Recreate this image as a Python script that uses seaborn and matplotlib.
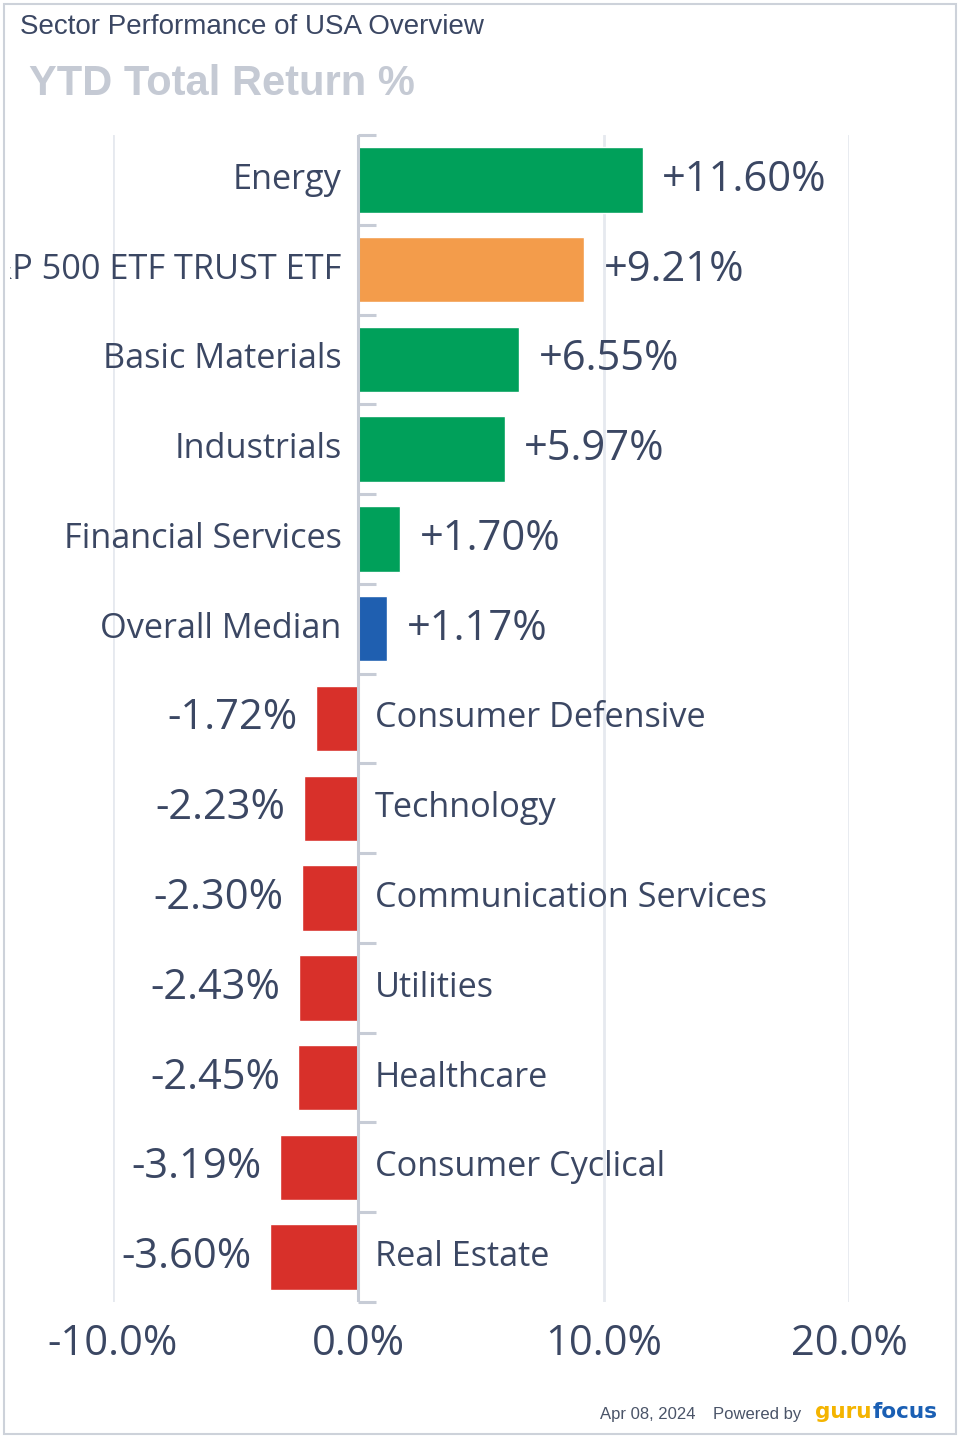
import matplotlib
matplotlib.use("Agg")
import matplotlib.pyplot as plt
import seaborn as sns
import pandas as pd
from matplotlib.patches import Rectangle
from matplotlib.transforms import Bbox, TransformedBbox

sectors = ["Energy", "SPDR S&P 500 ETF TRUST ETF", "Basic Materials", "Industrials",
           "Financial Services", "Overall Median", "Consumer Defensive", "Technology",
           "Communication Services", "Utilities", "Healthcare", "Consumer Cyclical",
           "Real Estate"]
returns = [11.60, 9.21, 6.55, 5.97, 1.70, 1.17, -1.72, -2.23, -2.30, -2.43, -2.45, -3.19, -3.60]
x_ticks = [-10, 0, 10, 20]
x_tick_labels = ["-10.0%", "0.0%", "10.0%", "20.0%"]

GREEN = "#00a05a"
ORANGE = "#f39c4b"
BLUE = "#1f5fb0"
RED = "#d8302a"
TEXT = "#3b4763"


def bar_colour(name, v):
    if name.startswith("SPDR"):
        return ORANGE
    if name == "Overall Median":
        return BLUE
    return GREEN if v >= 0 else RED


df = pd.DataFrame({"sector": sectors, "ret": returns})
palette = {s: bar_colour(s, v) for s, v in zip(sectors, returns)}

sns.set_style("white")
plt.rcParams["font.family"] = ["Open Sans", "DejaVu Sans"]

fig = plt.figure(figsize=(9.6, 14.38), dpi=100)
ax = fig.add_axes([113 / 960, 136 / 1438, 736 / 960, 1167 / 1438])

sns.barplot(data=df, x="ret", y="sector", hue="sector", palette=palette,
            legend=False, orient="h", width=0.73, saturation=1, ax=ax)

ax.set_xlim(-10, 20)
ax.set_ylim(len(sectors) - 0.5, -0.5)
for s in ax.spines.values():
    s.set_visible(False)

# vertical grid
for xv in [-10, 10, 20]:
    ax.axvline(xv, color="#e6e9ef", lw=2, zorder=0)
# zero axis with small category ticks
ax.axvline(0, color="#c7ccd6", lw=2.2, zorder=1)
for i in range(len(sectors) + 1):
    ax.hlines(i - 0.5, 0, 0.7, color="#c7ccd6", lw=2.2, zorder=1, clip_on=False)

ax.set_yticks([])
ax.set_ylabel("")
ax.set_xlabel("")
ax.set_xticks(x_ticks)
ax.set_xticklabels(x_tick_labels)
ax.tick_params(axis="x", length=0, pad=15, labelsize=30, labelcolor=TEXT)

# long names get cut at the card's left edge, like the original
clip = TransformedBbox(Bbox([[10 / 960, 0], [954 / 960, 1]]), fig.transFigure)
for i, (name, v) in enumerate(zip(sectors, returns)):
    label = f"+{v:.2f}%" if v >= 0 else f"{v:.2f}%"
    if v >= 0:
        t = ax.annotate(name, (0, i), xytext=(-12, 0), textcoords="offset points",
                        ha="right", va="center", fontsize=24.7, color=TEXT)
        ax.annotate(label, (v, i), xytext=(14, 0), textcoords="offset points",
                    ha="left", va="center", fontsize=30, color=TEXT)
    else:
        t = ax.annotate(name, (0, i), xytext=(12, 0), textcoords="offset points",
                        ha="left", va="center", fontsize=24.7, color=TEXT)
        ax.annotate(label, (v, i), xytext=(-13, 0), textcoords="offset points",
                    ha="right", va="center", fontsize=30, color=TEXT)
    t.set_clip_on(True)
    t.set_clip_box(clip)

fig.text(20 / 960, 1 - 27 / 1438, "Sector Performance of USA Overview", ha="left", va="center",
         fontsize=20, color=TEXT, family="Liberation Sans")
fig.text(29 / 960, 1 - 84 / 1438, "YTD Total Return %", ha="left", va="center",
         fontsize=30, color="#c5cad4", fontweight="bold", family="Liberation Sans")

fig.text(600 / 960, 1 - 1414 / 1438, "Apr 08, 2024", ha="left", va="center",
         fontsize=12, color="#4a5468", family="Liberation Sans")
fig.text(713 / 960, 1 - 1414 / 1438, "Powered by", ha="left", va="center",
         fontsize=12, color="#4a5468", family="Liberation Sans")
logo_font = ["Liberation Sans Narrow", "DejaVu Sans"]
g = fig.text(815 / 960, 1 - 1412 / 1438, "guru", ha="left", va="center",
             fontsize=15.5, color="#f4b400", fontweight="bold", family=logo_font)
ax.annotate("focus", xy=(1, 0.5), xycoords=g, xytext=(1, 0), textcoords="offset points",
            ha="left", va="center", fontsize=15.5, color="#1a5fb4", fontweight="bold",
            family=logo_font, annotation_clip=False)

fig.patches.append(Rectangle((4 / 960, 4 / 1438), 952 / 960, 1430 / 1438, transform=fig.transFigure,
                             fill=False, edgecolor="#cdd2da", lw=1.5))

fig.savefig("out.png", dpi=100, facecolor="white")
